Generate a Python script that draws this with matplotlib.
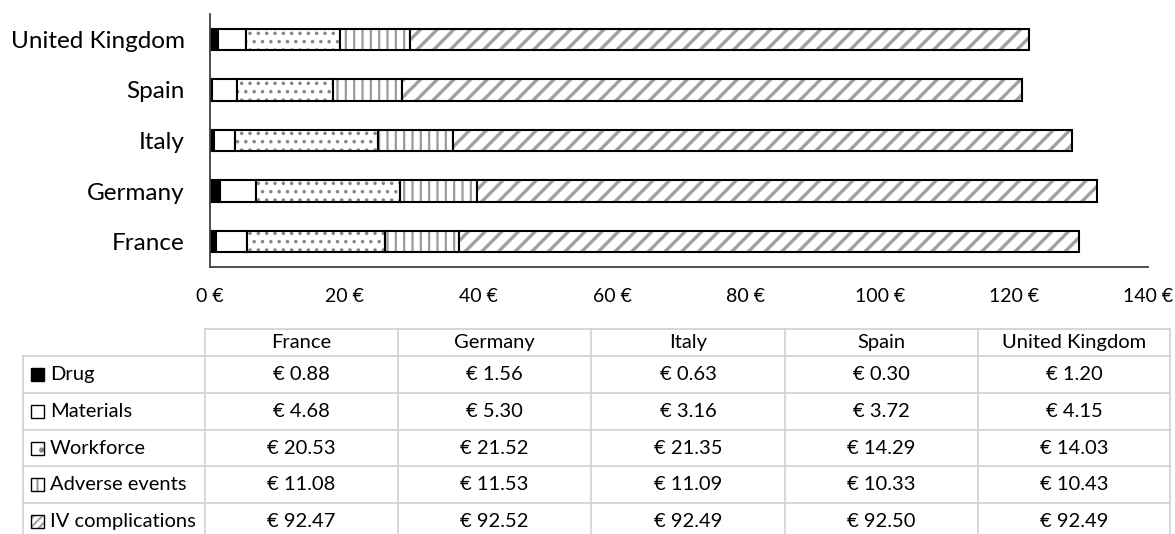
import matplotlib
matplotlib.use('Agg')
import matplotlib.pyplot as plt
from matplotlib.patches import Rectangle
import numpy as np

countries = ['France', 'Germany', 'Italy', 'Spain', 'United Kingdom']
components = ['Drug', 'Materials', 'Workforce', 'Adverse events', 'IV complications']
drug = [0.88, 1.56, 0.63, 0.30, 1.20]
materials = [4.68, 5.30, 3.16, 3.72, 4.15]
workforce = [20.53, 21.52, 21.35, 14.29, 14.03]
adverse = [11.08, 11.53, 11.09, 10.33, 10.43]
iv = [92.47, 92.52, 92.49, 92.50, 92.49]
x_ticks = [0, 20, 40, 60, 80, 100, 120, 140]

series = [drug, materials, workforce, adverse, iv]

plt.rcParams['font.family'] = ['Lato', 'DejaVu Sans']

W, H = 1175, 534
fig = plt.figure(figsize=(W / 100, H / 100), dpi=100)
ax = fig.add_axes([210 / W, 1 - 267 / H, (1148 - 210) / W, (267 - 14) / H])

styles = [
    dict(face='black', hatch=None, khatch=None, hcolor='black', hlw=1.0),
    dict(face='white', hatch=None, khatch=None, hcolor='black', hlw=1.0),
    dict(face='white', hatch='..', khatch='.', hcolor='#858585', hlw=1.3),
    dict(face='white', hatch='||', khatch='||', hcolor='#9a9a9a', hlw=1.6),
    dict(face='white', hatch='//', khatch='////', hcolor='#a0a0a0', hlw=2.4),
]


def apply_hlw(patches, lw):
    for p in patches:
        if hasattr(p, 'set_hatch_linewidth'):
            p.set_hatch_linewidth(lw)


y = np.arange(len(countries))
left = np.zeros(len(countries))
for vals, st in zip(series, styles):
    vals = np.array(vals)
    with plt.rc_context({'hatch.linewidth': st['hlw']}):
        bars = ax.barh(y, vals, left=left, height=0.42, facecolor=st['face'],
                       edgecolor=st['hcolor'], hatch=st['hatch'], linewidth=0)
    apply_hlw(bars, st['hlw'])
    ax.barh(y, vals, left=left, height=0.42, fill=False,
            edgecolor='black', linewidth=1.5)
    left += vals

ax.set_xlim(0, 140)
ax.set_ylim(-0.5, 4.5)
ax.set_xticks(x_ticks)
ax.set_xticklabels([f'{v} €' for v in x_ticks], fontsize=14)
ax.set_yticks(y)
ax.set_yticklabels(countries, fontsize=17.5)
ax.tick_params(axis='x', length=0, pad=15)
ax.tick_params(axis='y', length=0, pad=18)
for s in ['top', 'right']:
    ax.spines[s].set_visible(False)
for s in ['left', 'bottom']:
    ax.spines[s].set_color('#404040')
    ax.spines[s].set_linewidth(1.3)

# Data table below the chart
ov = fig.add_axes([0, 0, 1, 1])
ov.set_xlim(0, W)
ov.set_ylim(H, 0)
ov.axis('off')
ov.patch.set_alpha(0)

col_edges = [23, 205, 398, 591, 785, 978, 1170]
top = 329
hdr_bottom = 356
row_h = 36.8
row_edges = [hdr_bottom + i * row_h for i in range(6)]
grid_c = '#d0d0d0'
lw = 1.2

ov.plot([col_edges[1], col_edges[-1]], [top, top], color=grid_c, lw=lw)
for r in row_edges[:5]:
    ov.plot([col_edges[0], col_edges[-1]], [r, r], color=grid_c, lw=lw)
ov.plot([col_edges[0], col_edges[0]], [hdr_bottom, H], color=grid_c, lw=lw)
for cx in col_edges[1:]:
    ov.plot([cx, cx], [top, H], color=grid_c, lw=lw)

tfs = 14.5
for j, c in enumerate(countries):
    cx = (col_edges[j + 1] + col_edges[j + 2]) / 2
    ov.text(cx, (top + hdr_bottom) / 2, c, ha='center', va='center', fontsize=tfs)

for i, (name, vals, st) in enumerate(zip(components, series, styles)):
    cy = row_edges[i] + row_h / 2
    klw = min(st['hlw'], 1.5)
    with plt.rc_context({'hatch.linewidth': klw}):
        key = Rectangle((31, cy - 6.5), 13, 13, facecolor=st['face'],
                        edgecolor=st['hcolor'], hatch=st['khatch'], linewidth=0)
    apply_hlw([key], klw)
    ov.add_patch(key)
    ov.add_patch(Rectangle((31, cy - 6.5), 13, 13, fill=False,
                           edgecolor='black', linewidth=1.0))
    ov.text(50, cy, name, ha='left', va='center', fontsize=tfs)
    for j, v in enumerate(vals):
        cx = (col_edges[j + 1] + col_edges[j + 2]) / 2
        ov.text(cx, cy, f'€ {v:.2f}', ha='center', va='center', fontsize=tfs)

fig.savefig('out.png', dpi=100)
